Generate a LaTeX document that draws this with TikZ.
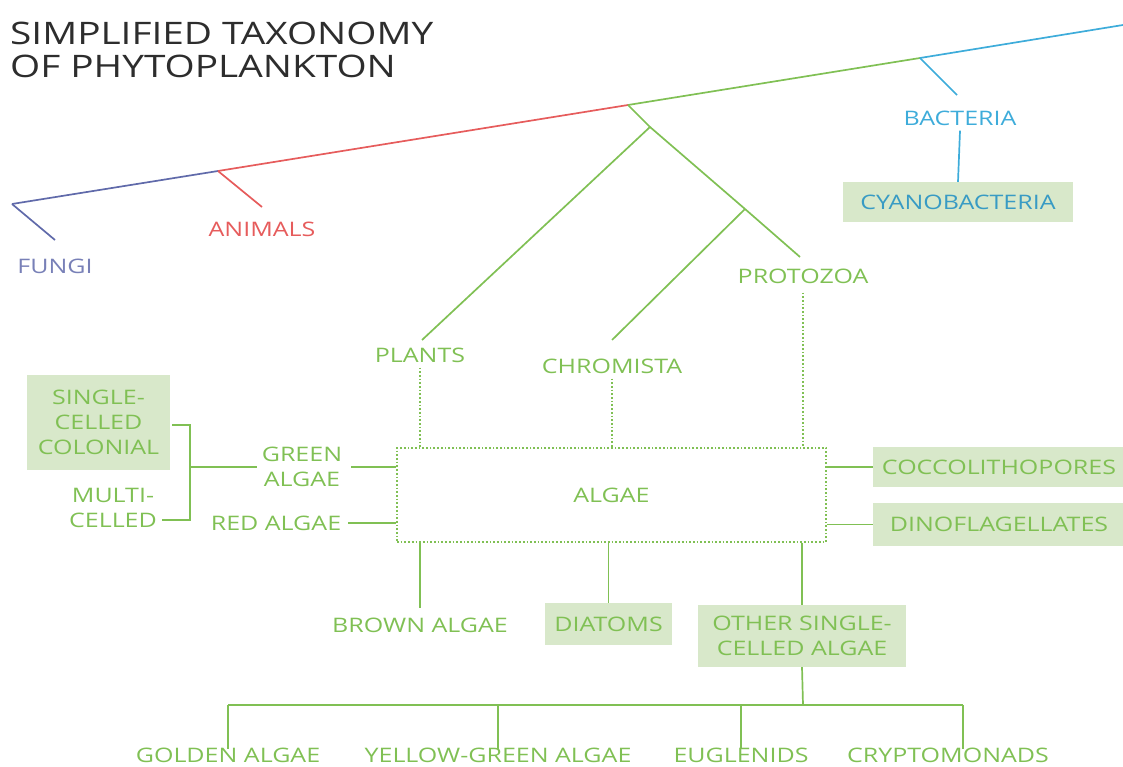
\documentclass[tikz,border=0pt]{standalone}
\usepackage{fontspec}
\setmainfont[FakeStretch=1.25]{Open Sans}
\usepackage{tikz}
\usetikzlibrary{positioning}
\definecolor{leafgreen}{RGB}{128,192,84}
\definecolor{boxgreen}{RGB}{216,232,202}
\definecolor{fungiblue}{RGB}{96,106,170}
\definecolor{animalred}{RGB}{230,92,92}
\definecolor{bactcyan}{RGB}{62,172,218}
\definecolor{titlegray}{RGB}{45,45,45}

\begin{document}
\begin{tikzpicture}[x=1pt,y=-1pt,
  lbl/.style={font=\fontsize{20}{25}\selectfont,text=leafgreen,align=center,inner sep=1pt},
  tag/.style={lbl,fill=boxgreen},
  branch/.style={draw=leafgreen,line width=1.7pt},
  dots/.style={draw=leafgreen,dotted,line width=1.7pt}]
  \useasboundingbox (0,0) rectangle (1123,767);
  % title
  \node[anchor=north west,inner sep=0,align=left,text=titlegray,
        font=\fontsize{31}{33}\selectfont] (title) at (10,22) {SIMPLIFIED TAXONOMY\\OF PHYTOPLANKTON};
  % main stem
  \coordinate (root) at (12,204);
  \coordinate (ja) at (218,171);
  \coordinate (jg) at (628,105);
  \coordinate (jb) at (920,58);
  \coordinate (tip) at (1123,25);
  \draw[line width=1.7pt,draw=fungiblue] (root) -- (ja);
  \draw[line width=1.7pt,draw=animalred] (ja) -- (jg);
  \draw[branch] (jg) -- (jb);
  \draw[line width=1.7pt,draw=bactcyan] (jb) -- (tip);
  % kingdoms
  \node[lbl,text=fungiblue!85!white] (fungi) at (55,266) {FUNGI};
  \node[lbl,text=animalred] (animals) at (262,229) {ANIMALS};
  \node[lbl,text=bactcyan] (bact) at (960,118) {BACTERIA};
  \node[tag,text=bactcyan!90!black,minimum width=230,minimum height=40] (cyano) at (958,202) {CYANOBACTERIA};
  \coordinate (fe) at (55,240);
  \coordinate (ae) at (262,207);
  \coordinate (be) at (957,95);
  \draw[line width=1.7pt,draw=fungiblue] (root) -- (fe);
  \draw[line width=1.7pt,draw=animalred] (ja) -- (ae);
  \draw[line width=1.7pt,draw=bactcyan] (jb) -- (be);
  \draw[line width=1.7pt,draw=bactcyan] ([yshift=-4]bact.south) -- (cyano.north);
  % eukaryote split
  \node[lbl] (plants) at (420,355) {PLANTS};
  \node[lbl] (chrom) at (612,366) {CHROMISTA};
  \node[lbl] (proto) at (803,276) {PROTOZOA};
  \coordinate (jp) at (650,127);
  \coordinate (jc) at (745,209);
  \coordinate (pe) at (422,340);
  \coordinate (ce) at (612,340);
  \coordinate (ze) at (800,257);
  \draw[branch] (jg) -- (jp) -- (pe);
  \draw[branch] (jp) -- (jc) -- (ze);
  \draw[branch] (jc) -- (ce);
  % algae
  \node[draw=leafgreen,dotted,line width=1.7pt,minimum width=429,minimum height=94,
        text=leafgreen,font=\fontsize{20}{25}\selectfont] (algae) at (611.5,495) {ALGAE};
  \draw[dots] ([yshift=-4]plants.south) -- (plants.south |- algae.north);
  \draw[dots] ([yshift=-4]chrom.south) -- (chrom.south |- algae.north);
  \draw[dots] ([yshift=-8]proto.south) -- (proto.south |- algae.north);
  % left side
  \node[lbl] (green) at (302,467) {GREEN\\ALGAE};
  \node[lbl] (red) at (276,523) {RED ALGAE};
  \node[tag,minimum width=143,minimum height=95] (single) at (98.5,422.5) {SINGLE-\\CELLED\\COLONIAL};
  \node[lbl] (multi) at (113,508) {MULTI-\\CELLED};
  \coordinate (kt) at (190,425);
  \coordinate (kb) at (190,520);
  \coordinate (km) at (190,467);
  \draw[branch] ([xshift=2]single.east |- kt) -- (kt) -- (kb) -- ([xshift=4]multi.east |- kb);
  \draw[branch] (km) -- ([xshift=-4]green.west |- km);
  \draw[branch] ([xshift=8]green.east |- km) -- (algae.west |- km);
  \draw[branch] ([xshift=6]red.east) -- (algae.west |- red.east);
  % right side
  \node[tag,minimum width=252,minimum height=40] (cocco) at (999,467) {COCCOLITHOPORES};
  \node[tag,minimum width=252,minimum height=43] (dino) at (999,524.5) {DINOFLAGELLATES};
  \draw[branch] (algae.east |- cocco.west) -- (cocco.west);
  \draw[branch] (algae.east |- dino.west) -- (dino.west);
  % below
  \node[lbl] (brown) at (420,625) {BROWN ALGAE};
  \node[tag,minimum width=127,minimum height=42] (diatoms) at (608.5,624) {DIATOMS};
  \node[tag,minimum width=208,minimum height=62] (other) at (802,636) {OTHER SINGLE-\\CELLED ALGAE};
  \draw[branch] (brown.north |- algae.south) -- ([yshift=8]brown.north);
  \draw[branch] (diatoms.north |- algae.south) -- (diatoms.north);
  \draw[branch] (other.north |- algae.south) -- (other.north);
  % other single-celled algae
  \node[lbl] (golden) at (228,755) {GOLDEN ALGAE};
  \node[lbl] (yellow) at (498,755) {YELLOW-GREEN ALGAE};
  \node[lbl] (eugl) at (741,755) {EUGLENIDS};
  \node[lbl] (crypto) at (948,755) {CRYPTOMONADS};
  \coordinate (hub) at (803,705);
  \coordinate (cd) at (963,705);
  \coordinate (cdb) at ([yshift=-3]crypto.north);
  \draw[branch] (other.south) -- (hub);
  \draw[branch] (golden.north |- hub) -- (cd);
  \foreach \k in {golden,yellow,eugl}
    \draw[branch] (\k.north |- hub) -- ([yshift=-3]\k.north);
  \draw[branch] (cd) -- (cd |- cdb);
\end{tikzpicture}
\end{document}
